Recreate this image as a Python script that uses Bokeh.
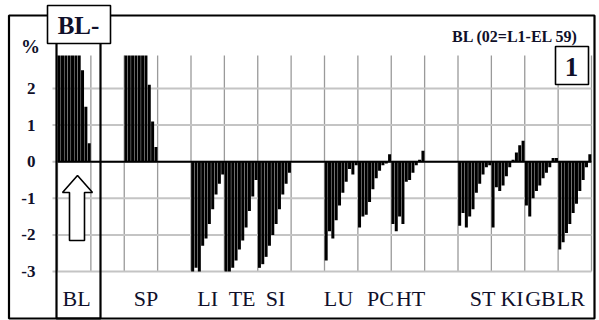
from bokeh.plotting import figure
from bokeh.core.properties import value
from bokeh.embed import file_html
from bokeh.resources import INLINE

# ---- data ----
groups = ["BL", "SP", "LI", "TE", "SI", "LU", "PC", "HT", "ST", "KI", "GB", "LR"]
group_start = [0, 20, 40, 50, 60, 80, 90, 100, 120, 130, 140, 150]
bl = [2.9, 2.9, 2.9, 2.9, 2.9, 2.9, 2.9, 2.5, 1.5, 0.5]
sp = [2.9, 2.9, 2.9, 2.9, 2.9, 2.9, 2.9, 2.1, 1.1, 0.4]
li = [-3.0, -2.9, -3.0, -2.3, -2.1, -1.7, -1.3, -0.9, -0.6, -0.35]
te = [-3.0, -3.0, -2.9, -2.7, -2.4, -2.15, -1.8, -1.35, -0.95, -0.5]
si = [-2.9, -2.8, -2.6, -2.3, -2.0, -1.7, -1.3, -0.9, -0.6, -0.3]
lu = [-2.7, -1.9, -2.1, -1.6, -1.2, -0.85, -0.55, -0.2, -0.35, -0.1]
pc = [-1.8, -1.5, -1.45, -1.1, -0.75, -0.45, -0.25, -0.1, -0.05, 0.2]
ht = [-1.7, -1.9, -1.5, -1.7, -0.55, -0.5, -0.3, -0.1, 0.05, 0.3]
st = [-1.75, -1.4, -1.8, -1.5, -1.3, -0.85, -0.6, -0.35, -0.15, -0.1]
ki = [-1.8, -0.7, -0.8, -0.65, -0.4, -0.15, 0.05, 0.25, 0.45, 0.57]
gb = [-1.2, -1.5, -1.0, -0.8, -0.65, -0.45, -0.3, -0.15, 0.1, 0.1]
lr = [-2.4, -2.2, -1.95, -1.7, -1.4, -1.15, -0.8, -0.5, -0.15, 0.2]
series = [bl, sp, li, te, si, lu, pc, ht, st, ki, gb, lr]
y_ticks = [-3, -2, -1, 0, 1, 2]
y_min, y_max = -3, 2.9
n_slots = 160
title_text = "BL (02=L1-EL 59)"
box_label = "BL-"
panel_number = "1"
unit_label = "%"

# ---- layout (page pixels) ----
W, H = 599, 320
FL, FR, FT, FB = 57, 591, 55, 271      # plot area edges on the page
kx = n_slots / (FR - FL)
ky = (y_max - y_min) / (FB - FT)

def dx(px):
    return (px - FL) * kx

def dy(py):
    return y_max - (py - FT) * ky

p = figure(width=W, height=H, output_backend="svg", toolbar_location=None,
           x_range=(dx(0), dx(W)), y_range=(dy(H), dy(0)))
p.min_border = 0
p.axis.visible = False
p.grid.visible = False
p.outline_line_color = None
p.background_fill_color = "white"

SERIF = value("Liberation Serif")
INK = "#10102a"

# grid lines
vx = list(range(0, n_slots + 1, 10))
p.segment(x0=vx, x1=vx, y0=[y_min] * len(vx), y1=[y_max] * len(vx),
          line_color="#9a9a9a", line_width=1.3)
p.segment(x0=[dx(52)] * len(y_ticks), x1=[n_slots] * len(y_ticks),
          y0=y_ticks, y1=y_ticks, line_color="#c4c4c4", line_width=2)

# bars
xs, tops = [], []
for start, vals in zip(group_start, series):
    for i, v in enumerate(vals):
        xs.append(start + i + 0.5)
        tops.append(v)
p.vbar(x=xs, top=tops, bottom=0, width=0.9, fill_color="black", line_color=None)

# zero line
p.segment(x0=[0], x1=[n_slots], y0=[0], y1=[0], line_color="black", line_width=2)

# y tick labels
p.text(x=[dx(35)] * len(y_ticks), y=y_ticks, text=[str(t) for t in y_ticks],
       text_font=SERIF, text_font_style="bold", text_font_size=value("17px"),
       text_align="right", text_baseline="middle", text_color=INK)

# group labels under the groups
label_nudge = [0.7, 1.5, 0.0, 0.3, 0.3, -0.8, 1.8, 0.8, 2.4, 1.2, -0.3, -1.2]
lx = [s + 5 + n for s, n in zip(group_start, label_nudge)]
p.text(x=lx, y=[dy(298)] * len(lx), text=groups,
       text_font=SERIF, text_font_size=value("22px"),
       text_align="center", text_baseline="middle", text_color=INK)

# frames and boxes
def box(l, t, r, b, fill=None, lw=2.0):
    p.quad(left=[dx(l)], right=[dx(r)], top=[dy(t)], bottom=[dy(b)],
           fill_color=fill if fill else "white", fill_alpha=1 if fill else 0,
           line_color="black", line_width=lw)

box(8.5, 15, 594, 318, lw=2.2)
box(56, 42, 100, 318, lw=2.2)
box(47, 5, 110, 43, fill="white", lw=1.6)
box(555, 46, 588, 84, fill="white", lw=1.6)

# up arrow in the BL column
arrow_x = [77, 92, 84, 84, 69, 69, 62]
arrow_y = [175, 192, 192, 240, 240, 192, 192]
p.patch(x=[dx(v) for v in arrow_x], y=[dy(v) for v in arrow_y],
        fill_color="white", line_color="black", line_width=1.6)

def lab(text, px, py, size, align="center"):
    p.text(x=[dx(px)], y=[dy(py)], text=[text], text_font=SERIF,
           text_font_style="bold", text_font_size=value(size),
           text_align=align, text_baseline="middle", text_color=INK)

lab(box_label, 78, 25, "25px")
lab(panel_number, 571, 66, "27px")
lab(unit_label, 30, 46, "19px")
lab(title_text, 578, 36, "16px", align="right")

open("out.html", "w").write(file_html(p, INLINE))
